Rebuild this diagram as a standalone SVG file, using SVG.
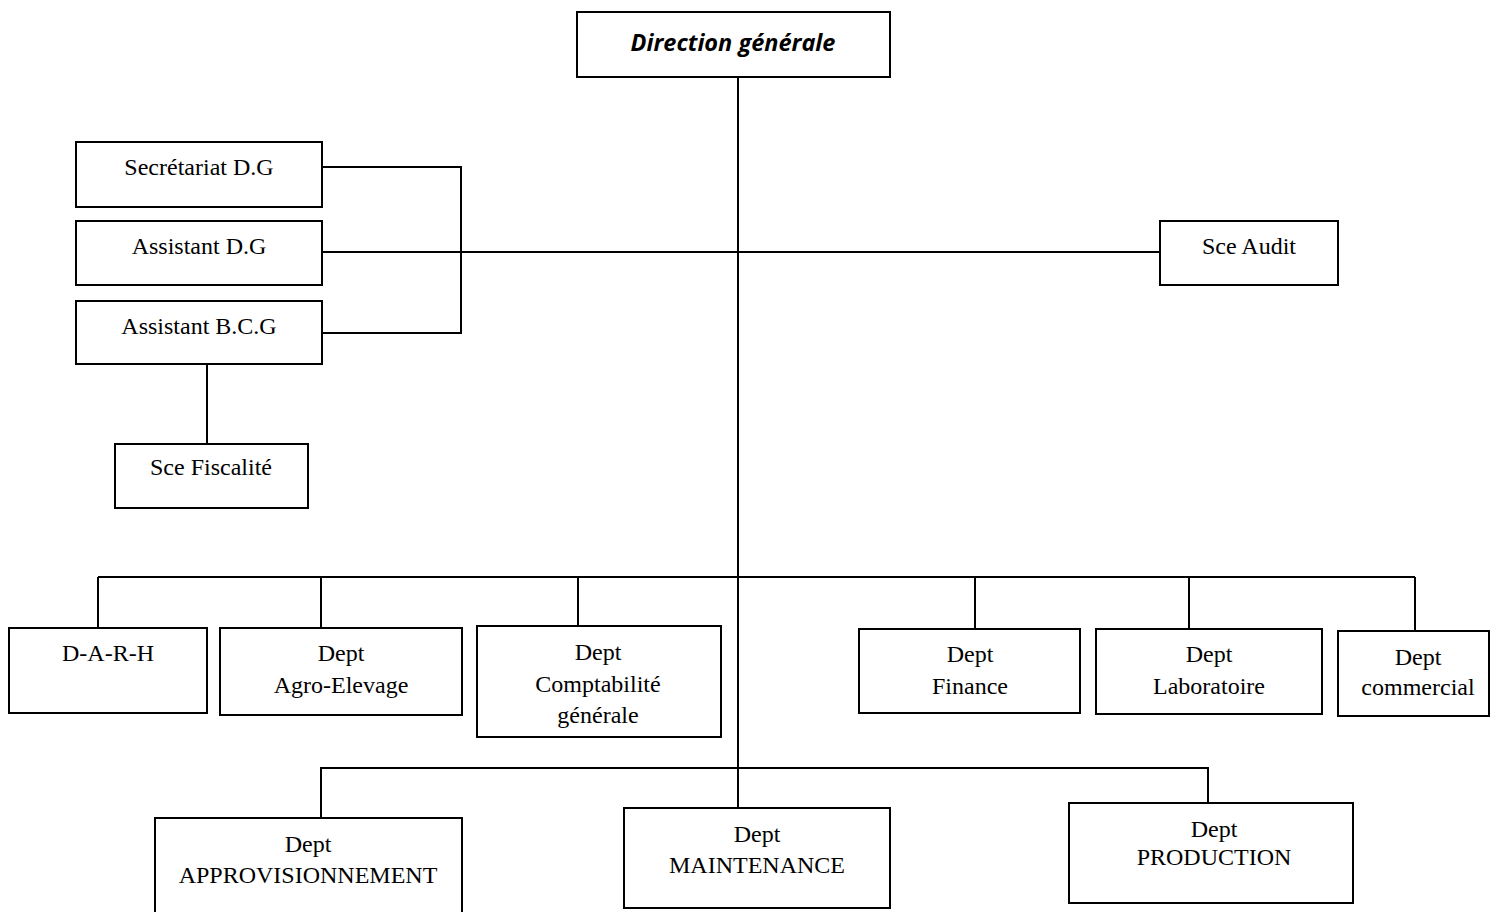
<svg xmlns="http://www.w3.org/2000/svg" width="1490" height="912" viewBox="0 0 1490 912">
  <style>
    .box { fill: #ffffff; stroke: #000000; stroke-width: 2; }
    .wire { fill: none; stroke: #000000; stroke-width: 2; }
    .t { font-family: "Liberation Serif", "Times New Roman", serif; font-size: 24px; text-anchor: middle; fill: #000000; }
    .head { font-family: "Open Sans", "Liberation Sans", sans-serif; font-size: 23.5px; font-style: italic; font-weight: bold; text-anchor: middle; fill: #000000; }
  </style>

  <!-- connectors -->
  <g id="connectors">
    <line class="wire" x1="738" y1="77" x2="738" y2="808"/>
    <polyline class="wire" points="322,167 461,167 461,333 322,333"/>
    <line class="wire" x1="322" y1="252" x2="1160" y2="252"/>
    <line class="wire" x1="207" y1="364" x2="207" y2="444"/>
    <line class="wire" x1="98" y1="577" x2="1415" y2="577"/>
    <line class="wire" x1="98" y1="577" x2="98" y2="628"/>
    <line class="wire" x1="321" y1="577" x2="321" y2="628"/>
    <line class="wire" x1="578" y1="577" x2="578" y2="626"/>
    <line class="wire" x1="975" y1="577" x2="975" y2="629"/>
    <line class="wire" x1="1189" y1="577" x2="1189" y2="629"/>
    <line class="wire" x1="1415" y1="577" x2="1415" y2="631"/>
    <polyline class="wire" points="321,818 321,768 1208,768 1208,803"/>
  </g>

  <g id="direction-generale">
    <rect class="box" x="577" y="12" width="313" height="65"/>
    <text class="head" x="733" y="51">Direction générale</text>
  </g>

  <g id="secretariat-dg">
    <rect class="box" x="76" y="142" width="246" height="65"/>
    <text class="t" x="199" y="175">Secrétariat D.G</text>
  </g>

  <g id="assistant-dg">
    <rect class="box" x="76" y="221" width="246" height="64"/>
    <text class="t" x="199" y="254">Assistant D.G</text>
  </g>

  <g id="assistant-bcg">
    <rect class="box" x="76" y="301" width="246" height="63"/>
    <text class="t" x="199" y="334">Assistant B.C.G</text>
  </g>

  <g id="sce-audit">
    <rect class="box" x="1160" y="221" width="178" height="64"/>
    <text class="t" x="1249" y="254">Sce Audit</text>
  </g>

  <g id="sce-fiscalite">
    <rect class="box" x="115" y="444" width="193" height="64"/>
    <text class="t" x="211" y="475">Sce Fiscalité</text>
  </g>

  <g id="darh">
    <rect class="box" x="9" y="628" width="198" height="85"/>
    <text class="t" x="108" y="661">D-A-R-H</text>
  </g>

  <g id="dept-agro-elevage">
    <rect class="box" x="220" y="628" width="242" height="87"/>
    <text class="t" x="341" y="661">Dept</text>
    <text class="t" x="341" y="693">Agro-Elevage</text>
  </g>

  <g id="dept-comptabilite">
    <rect class="box" x="477" y="626" width="244" height="111"/>
    <text class="t" x="598" y="660">Dept</text>
    <text class="t" x="598" y="692">Comptabilité</text>
    <text class="t" x="598" y="723">générale</text>
  </g>

  <g id="dept-finance">
    <rect class="box" x="859" y="629" width="221" height="84"/>
    <text class="t" x="970" y="662">Dept</text>
    <text class="t" x="970" y="694">Finance</text>
  </g>

  <g id="dept-laboratoire">
    <rect class="box" x="1096" y="629" width="226" height="85"/>
    <text class="t" x="1209" y="662">Dept</text>
    <text class="t" x="1209" y="694">Laboratoire</text>
  </g>

  <g id="dept-commercial">
    <rect class="box" x="1338" y="631" width="151" height="85"/>
    <text class="t" x="1418" y="665">Dept</text>
    <text class="t" x="1418" y="695">commercial</text>
  </g>

  <g id="dept-approvisionnement">
    <rect class="box" x="155" y="818" width="307" height="100"/>
    <text class="t" x="308" y="852">Dept</text>
    <text class="t" x="308" y="883">APPROVISIONNEMENT</text>
  </g>

  <g id="dept-maintenance">
    <rect class="box" x="624" y="808" width="266" height="100"/>
    <text class="t" x="757" y="842">Dept</text>
    <text class="t" x="757" y="873">MAINTENANCE</text>
  </g>

  <g id="dept-production">
    <rect class="box" x="1069" y="803" width="284" height="100"/>
    <text class="t" x="1214" y="837">Dept</text>
    <text class="t" x="1214" y="865">PRODUCTION</text>
  </g>
</svg>
